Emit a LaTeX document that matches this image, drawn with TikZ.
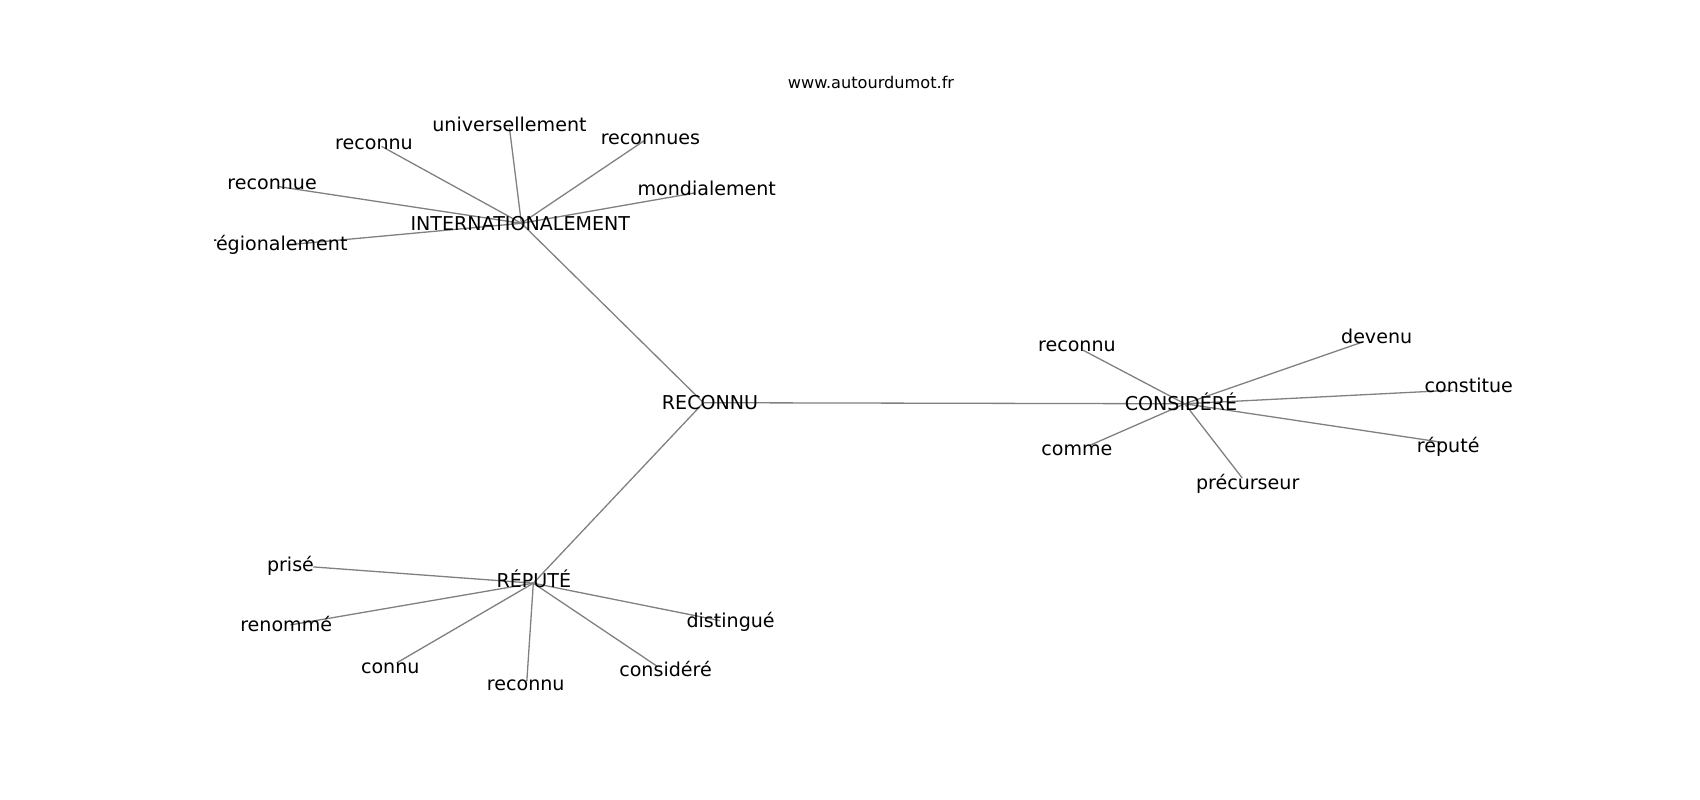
\documentclass[tikz,border=0pt]{standalone}
\usepackage{fontspec}
\setmainfont{DejaVu Sans}
\newcommand{\lblfont}{\fontsize{17.6pt}{21pt}\selectfont}
\newcommand{\ttlfont}{\fontsize{14.9pt}{18pt}\selectfont}
\begin{document}
\begin{tikzpicture}[x=1pt,y=-1pt,
  lbl/.style={anchor=base, inner sep=0pt, font=\lblfont, text=black},
  ttl/.style={anchor=base, inner sep=0pt, font=\ttlfont, text=black},
  edge/.style={draw=black!50, line width=1.2pt}]
\useasboundingbox (0,0) rectangle (1568.3,738);
\node[ttl] (title) at (803.5,81.5) {www.autourdumot.fr};
\begin{scope}
\clip (197.5,88.6) rectangle (1411.5,657);
% hubs
\coordinate (hR) at (649,371.5);
\coordinate (hI) at (481,206);
\coordinate (hC) at (1093,372.5);
\coordinate (hP) at (492,538);
% INTERNATIONALEMENT leaves
\coordinate (eI1) at (352,135);
\coordinate (eI2) at (470,118);
\coordinate (eI3) at (594,130);
\coordinate (eI4) at (641,178);
\coordinate (eI5) at (256,172);
\coordinate (eI6) at (264,226);
% CONSIDERE leaves
\coordinate (eC1) at (999,323);
\coordinate (eC2) at (1257,315.5);
\coordinate (eC3) at (1340,360);
\coordinate (eC4) at (1330,408);
\coordinate (eC5) at (1146,441);
\coordinate (eC6) at (1005,411);
% REPUTE leaves
\coordinate (eP1) at (289,523);
\coordinate (eP2) at (268,576.5);
\coordinate (eP3) at (366,611.5);
\coordinate (eP4) at (486,628.5);
\coordinate (eP5) at (606,614.5);
\coordinate (eP6) at (664,572.5);
% edges
\draw[edge] (hR) -- (hI);
\draw[edge] (hR) -- (hC);
\draw[edge] (hR) -- (hP);
\foreach \e in {eI1,eI2,eI3,eI4,eI5,eI6} \draw[edge] (hI) -- (\e);
\foreach \e in {eC1,eC2,eC3,eC4,eC5,eC6} \draw[edge] (hC) -- (\e);
\foreach \e in {eP1,eP2,eP3,eP4,eP5,eP6} \draw[edge] (hP) -- (\e);
% labels
\node[lbl] (tR) at (655,377.5) {RECONNU};
\node[lbl] (tI) at (480,213) {INTERNATIONALEMENT};
\node[lbl] (tC) at (1089.5,379) {CONSIDÉRÉ};
\node[lbl] (tP) at (492.5,542) {RÉPUTÉ};
\node[lbl] (tI1) at (345,137.5) {reconnu};
\node[lbl] (tI2) at (470,121) {universellement};
\node[lbl] (tI3) at (600,133) {reconnues};
\node[lbl] (tI4) at (652,180) {mondialement};
\node[lbl] (tI5) at (251,175) {reconnue};
\node[lbl] (tI6) at (256.5,231.5) {régionalement};
\node[lbl] (tC1) at (993.5,324.5) {reconnu};
\node[lbl] (tC2) at (1270,316.5) {devenu};
\node[lbl] (tC3) at (1355,362.5) {constitue};
\node[lbl] (tC4) at (1336,417) {réputé};
\node[lbl] (tC5) at (1151,452) {précurseur};
\node[lbl] (tC6) at (993.5,420.5) {comme};
\node[lbl] (tP1) at (268,527) {prisé};
\node[lbl] (tP2) at (264,583) {renommé};
\node[lbl] (tP3) at (360,621) {connu};
\node[lbl] (tP4) at (485,637) {reconnu};
\node[lbl] (tP5) at (614,624) {considéré};
\node[lbl] (tP6) at (674,579) {distingué};
\end{scope}
\end{tikzpicture}
\end{document}
